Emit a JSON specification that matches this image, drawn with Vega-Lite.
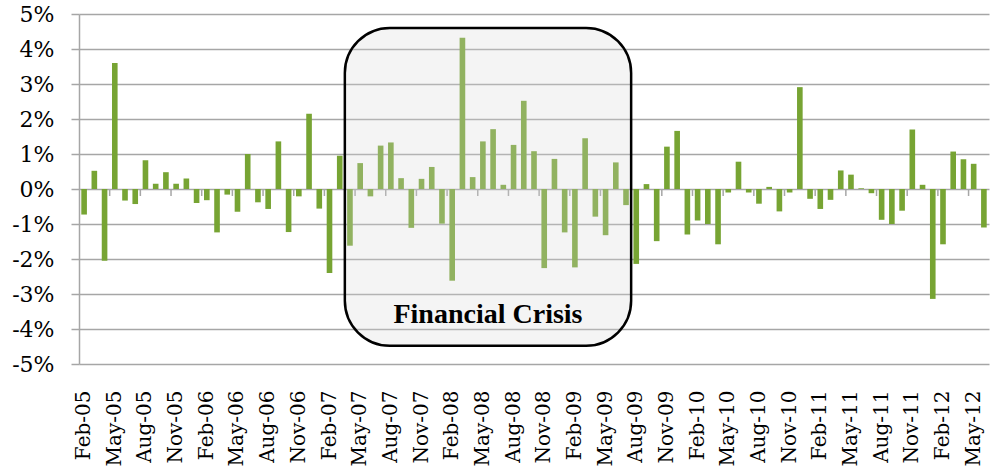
{
  "$schema": "https://vega.github.io/schema/vega-lite/v6.json",
  "width": 910,
  "height": 350,
  "autosize": {"type": "none"},
  "padding": {"left": 79, "top": 14, "right": 7, "bottom": 103},
  "background": "white",
  "config": {
    "view": {"stroke": null},
    "axisX": {"labelAngle": -90, "labelFont": "DejaVu Serif", "labelFontSize": 20, "labelColor": "#000000", "labelPadding": 26, "labelOverlap": false, "ticks": false, "domain": false, "grid": false, "title": null},
    "axisY": {"labelFont": "DejaVu Serif", "labelFontSize": 22, "labelColor": "#000000", "labelPadding": 17, "labelOverlap": false, "labelFlush": false, "tickSize": 8, "tickColor": "#a6a6a6", "tickWidth": 1.5, "domainColor": "#a6a6a6", "domainWidth": 1.5, "grid": true, "gridColor": "#a6a6a6", "gridWidth": 1.5, "title": null}
  },
  "datasets": {
    "bars": [
      {"m": "Feb-05", "v": -0.73}, {"m": "Mar-05", "v": 0.52}, {"m": "Apr-05", "v": -2.05}, {"m": "May-05", "v": 3.6},
      {"m": "Jun-05", "v": -0.33}, {"m": "Jul-05", "v": -0.43}, {"m": "Aug-05", "v": 0.82}, {"m": "Sep-05", "v": 0.15},
      {"m": "Oct-05", "v": 0.48}, {"m": "Nov-05", "v": 0.15}, {"m": "Dec-05", "v": 0.3}, {"m": "Jan-06", "v": -0.4},
      {"m": "Feb-06", "v": -0.32}, {"m": "Mar-06", "v": -1.24}, {"m": "Apr-06", "v": -0.16}, {"m": "May-06", "v": -0.65},
      {"m": "Jun-06", "v": 1.0}, {"m": "Jul-06", "v": -0.38}, {"m": "Aug-06", "v": -0.57}, {"m": "Sep-06", "v": 1.36},
      {"m": "Oct-06", "v": -1.23}, {"m": "Nov-06", "v": -0.21}, {"m": "Dec-06", "v": 2.15}, {"m": "Jan-07", "v": -0.56},
      {"m": "Feb-07", "v": -2.4}, {"m": "Mar-07", "v": 0.95}, {"m": "Apr-07", "v": -1.62}, {"m": "May-07", "v": 0.74},
      {"m": "Jun-07", "v": -0.21}, {"m": "Jul-07", "v": 1.24}, {"m": "Aug-07", "v": 1.33}, {"m": "Sep-07", "v": 0.31},
      {"m": "Oct-07", "v": -1.11}, {"m": "Nov-07", "v": 0.29}, {"m": "Dec-07", "v": 0.63}, {"m": "Jan-08", "v": -0.99},
      {"m": "Feb-08", "v": -2.62}, {"m": "Mar-08", "v": 4.32}, {"m": "Apr-08", "v": 0.34}, {"m": "May-08", "v": 1.36},
      {"m": "Jun-08", "v": 1.71}, {"m": "Jul-08", "v": 0.12}, {"m": "Aug-08", "v": 1.26}, {"m": "Sep-08", "v": 2.52},
      {"m": "Oct-08", "v": 1.08}, {"m": "Nov-08", "v": -2.26}, {"m": "Dec-08", "v": 0.86}, {"m": "Jan-09", "v": -1.24},
      {"m": "Feb-09", "v": -2.24}, {"m": "Mar-09", "v": 1.45}, {"m": "Apr-09", "v": -0.79}, {"m": "May-09", "v": -1.32},
      {"m": "Jun-09", "v": 0.76}, {"m": "Jul-09", "v": -0.46}, {"m": "Aug-09", "v": -2.14}, {"m": "Sep-09", "v": 0.14},
      {"m": "Oct-09", "v": -1.49}, {"m": "Nov-09", "v": 1.21}, {"m": "Dec-09", "v": 1.66}, {"m": "Jan-10", "v": -1.3},
      {"m": "Feb-10", "v": -0.9}, {"m": "Mar-10", "v": -1.0}, {"m": "Apr-10", "v": -1.58}, {"m": "May-10", "v": -0.1},
      {"m": "Jun-10", "v": 0.78}, {"m": "Jul-10", "v": -0.1}, {"m": "Aug-10", "v": -0.42}, {"m": "Sep-10", "v": 0.06},
      {"m": "Oct-10", "v": -0.64}, {"m": "Nov-10", "v": -0.1}, {"m": "Dec-10", "v": 2.91}, {"m": "Jan-11", "v": -0.28},
      {"m": "Feb-11", "v": -0.57}, {"m": "Mar-11", "v": -0.31}, {"m": "Apr-11", "v": 0.53}, {"m": "May-11", "v": 0.41},
      {"m": "Jun-11", "v": 0.02}, {"m": "Jul-11", "v": -0.12}, {"m": "Aug-11", "v": -0.88}, {"m": "Sep-11", "v": -1.0},
      {"m": "Oct-11", "v": -0.62}, {"m": "Nov-11", "v": 1.7}, {"m": "Dec-11", "v": 0.12}, {"m": "Jan-12", "v": -3.14},
      {"m": "Feb-12", "v": -1.58}, {"m": "Mar-12", "v": 1.07}, {"m": "Apr-12", "v": 0.85}, {"m": "May-12", "v": 0.72},
      {"m": "Jun-12", "v": -1.1}
    ],
    "ticks": [
      {"m": "May-05"}, {"m": "Aug-05"}, {"m": "Nov-05"}, {"m": "Feb-06"}, {"m": "May-06"}, {"m": "Aug-06"}, {"m": "Nov-06"},
      {"m": "Feb-07"}, {"m": "May-07"}, {"m": "Aug-07"}, {"m": "Nov-07"}, {"m": "Feb-08"}, {"m": "May-08"}, {"m": "Aug-08"},
      {"m": "Nov-08"}, {"m": "Feb-09"}, {"m": "May-09"}, {"m": "Aug-09"}, {"m": "Nov-09"}, {"m": "Feb-10"}, {"m": "May-10"},
      {"m": "Aug-10"}, {"m": "Nov-10"}, {"m": "Feb-11"}, {"m": "May-11"}, {"m": "Aug-11"}, {"m": "Nov-11"}, {"m": "Feb-12"},
      {"m": "May-12"}
    ]
  },
  "layer": [
    {
      "data": {"name": "bars"},
      "mark": {"type": "bar", "width": {"band": 0.55}, "color": "#77a433"},
      "encoding": {
        "x": {
          "field": "m",
          "type": "ordinal",
          "scale": {
            "domain": ["Feb-05","Mar-05","Apr-05","May-05","Jun-05","Jul-05","Aug-05","Sep-05","Oct-05","Nov-05","Dec-05","Jan-06","Feb-06","Mar-06","Apr-06","May-06","Jun-06","Jul-06","Aug-06","Sep-06","Oct-06","Nov-06","Dec-06","Jan-07","Feb-07","Mar-07","Apr-07","May-07","Jun-07","Jul-07","Aug-07","Sep-07","Oct-07","Nov-07","Dec-07","Jan-08","Feb-08","Mar-08","Apr-08","May-08","Jun-08","Jul-08","Aug-08","Sep-08","Oct-08","Nov-08","Dec-08","Jan-09","Feb-09","Mar-09","Apr-09","May-09","Jun-09","Jul-09","Aug-09","Sep-09","Oct-09","Nov-09","Dec-09","Jan-10","Feb-10","Mar-10","Apr-10","May-10","Jun-10","Jul-10","Aug-10","Sep-10","Oct-10","Nov-10","Dec-10","Jan-11","Feb-11","Mar-11","Apr-11","May-11","Jun-11","Jul-11","Aug-11","Sep-11","Oct-11","Nov-11","Dec-11","Jan-12","Feb-12","Mar-12","Apr-12","May-12","Jun-12"],
            "paddingInner": 0,
            "paddingOuter": 0
          },
          "axis": {
            "values": ["Feb-05","May-05","Aug-05","Nov-05","Feb-06","May-06","Aug-06","Nov-06","Feb-07","May-07","Aug-07","Nov-07","Feb-08","May-08","Aug-08","Nov-08","Feb-09","May-09","Aug-09","Nov-09","Feb-10","May-10","Aug-10","Nov-10","Feb-11","May-11","Aug-11","Nov-11","Feb-12","May-12"]
          }
        },
        "y": {
          "field": "v",
          "type": "quantitative",
          "scale": {"domain": [-5, 5], "nice": false},
          "axis": {
            "values": [-5, -4, -3, -2, -1, 0, 1, 2, 3, 4, 5],
            "tickCount": 12,
            "labelExpr": "datum.value + '%'"
          }
        }
      }
    },
    {
      "data": {"name": "ticks"},
      "mark": {"type": "rule", "color": "#a6a6a6", "strokeWidth": 1.5},
      "encoding": {
        "x": {"field": "m", "type": "ordinal", "bandPosition": 0},
        "y": {"datum": 0, "type": "quantitative"},
        "y2": {"datum": -0.2}
      }
    },
    {
      "data": {"values": [{}]},
      "mark": {"type": "rect", "fill": "#d9d9d9", "fillOpacity": 0.28, "stroke": "#000000", "strokeWidth": 2.5, "cornerRadius": 45},
      "encoding": {
        "x": {"datum": "Apr-07", "type": "ordinal", "bandPosition": 0},
        "x2": {"datum": "Jul-09", "bandPosition": 1},
        "y": {"datum": 4.6, "type": "quantitative"},
        "y2": {"datum": -4.48}
      }
    },
    {
      "data": {"values": [{"t": "Financial Crisis"}]},
      "mark": {"type": "text", "font": "Liberation Serif", "fontWeight": "bold", "fontSize": 28, "align": "center", "baseline": "alphabetic", "color": "#000000"},
      "encoding": {
        "x": {"datum": "Jun-08", "type": "ordinal", "bandPosition": 0},
        "y": {"datum": -3.82, "type": "quantitative"},
        "text": {"field": "t"}
      }
    }
  ]
}
